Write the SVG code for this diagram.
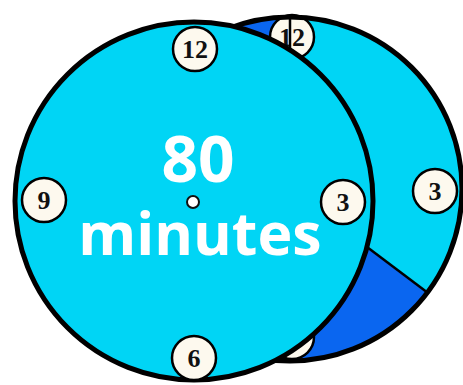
<svg xmlns="http://www.w3.org/2000/svg" width="463" height="385" viewBox="0 0 463 385">
<style>
.face{fill:#00d5f5;stroke:#000;stroke-width:5}
.mk{fill:#fdf9ee;stroke:#000;stroke-width:2.5}
.num{font-family:"Liberation Serif","Times New Roman",serif;font-size:26px;font-weight:bold;fill:#111;text-anchor:middle}
.big{font-family:"Open Sans","Noto Sans",sans-serif;font-weight:bold;fill:#fff;text-anchor:middle}
.rad{stroke:#000;stroke-width:2.5;fill:none}
</style>
<rect width="463" height="385" fill="#fff"/>
<g id="back-clock">
<circle cx="290" cy="189" r="172" fill="#0a66f0"/>
<path d="M290,189 L290,17 A172,172 0 0 1 427.4,292.5 Z" fill="#00d5f5"/>
<g id="back-marker-12"><circle class="mk" cx="292" cy="37" r="22"/><text class="num" x="292" y="46">12</text></g>
<g id="back-marker-3"><circle class="mk" cx="435" cy="191" r="22"/><text class="num" x="435" y="200">3</text></g>
<g id="back-marker-6"><circle class="mk" cx="292" cy="337" r="22"/><text class="num" x="292" y="346">6</text></g>
<g id="connectors">
<path class="rad" d="M290,189 V17"/>
<path class="rad" d="M290,189 L427.4,292.5"/>
</g>
<circle cx="290" cy="189" r="172" fill="none" stroke="#000" stroke-width="5"/>
</g>
<g id="front-clock">
<circle class="face" cx="194" cy="201" r="179"/>
<g id="marker-12"><circle class="mk" cx="195" cy="49" r="22"/><text class="num" x="195" y="58">12</text></g>
<g id="marker-9"><circle class="mk" cx="44" cy="200" r="22"/><text class="num" x="44" y="209">9</text></g>
<g id="marker-3"><circle class="mk" cx="343" cy="202" r="22"/><text class="num" x="343" y="211">3</text></g>
<g id="marker-6"><circle class="mk" cx="194" cy="358" r="22"/><text class="num" x="194" y="367">6</text></g>
<circle cx="193" cy="202" r="6" fill="#fff" stroke="#111" stroke-width="2"/>
<text class="big" x="198" y="182" font-size="64">80</text>
<text class="big" x="200" y="255" font-size="59">minutes</text>
</g>
</svg>
